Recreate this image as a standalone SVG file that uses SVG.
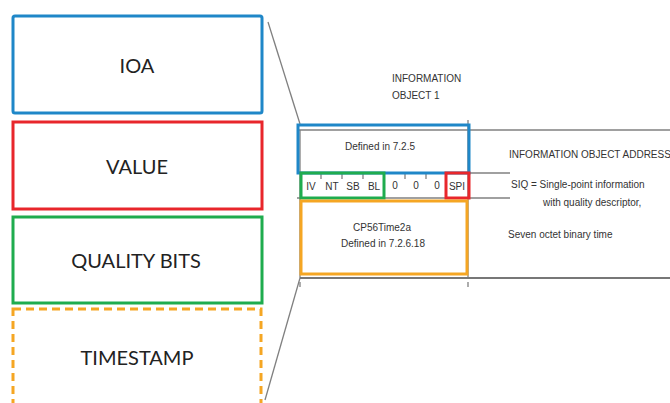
<svg xmlns="http://www.w3.org/2000/svg" width="670" height="403" viewBox="0 0 670 403">
<style>
.big{font-family:Lato,"Open Sans","Liberation Sans",sans-serif;font-size:20px;fill:#222;text-anchor:middle}
.sm{font-family:"Liberation Sans",Arial,sans-serif;font-size:10px;fill:#333}
.c{text-anchor:middle}
.g{stroke:#808080;stroke-width:1.3;fill:none}
.box{fill:none;stroke-width:3}
</style>
<rect width="670" height="403" fill="#fff"/>
<g id="connectors">
<line class="g" x1="268" y1="22" x2="300" y2="124"/>
<line class="g" x1="300" y1="278" x2="265" y2="400"/>
</g>
<g id="table">
<line class="g" x1="300" y1="130" x2="300" y2="278"/>
<line class="g" x1="468" y1="120" x2="468" y2="278"/>
<line class="g" x1="297" y1="130" x2="670" y2="130"/>
<line class="g" x1="297" y1="173" x2="510" y2="173"/>
<line class="g" x1="297" y1="198" x2="510" y2="198"/>
<line x1="300" y1="278" x2="670" y2="278" stroke="#777" stroke-width="2"/>
<line class="g" x1="300" y1="282" x2="300" y2="287" stroke-width="0.8"/>
<line class="g" x1="468" y1="282" x2="468" y2="287" stroke-width="0.8"/>
<g class="g" stroke-width="0.9">
<line x1="321" y1="173" x2="321" y2="179"/><line x1="342" y1="173" x2="342" y2="179"/>
<line x1="363" y1="173" x2="363" y2="179"/><line x1="405" y1="173" x2="405" y2="179"/>
<line x1="426" y1="173" x2="426" y2="179"/>
</g>
</g>
<g id="ioa">
<rect class="box" x="13" y="16" width="249" height="97" rx="2" stroke="#1f87c8"/>
<text class="big" x="137" y="73">IOA</text>
</g>
<g id="value">
<rect class="box" x="13" y="122" width="249" height="87" stroke="#e8262b"/>
<text class="big" x="137" y="174">VALUE</text>
</g>
<g id="quality">
<rect class="box" x="13" y="217" width="249" height="86" stroke="#1fac4e"/>
<text class="big" x="136" y="268">QUALITY BITS</text>
</g>
<g id="timestamp">
<rect class="box" x="13" y="309" width="248" height="100" stroke="#f5a623" stroke-dasharray="8,5"/>
<text class="big" x="137" y="365">TIMESTAMP</text>
</g>
<g id="info-object">
<text class="sm" x="392" y="82" font-size="11.5">INFORMATION</text>
<text class="sm" x="392" y="99" font-size="11.5">OBJECT 1</text>
</g>
<g id="address">
<rect class="box" x="298" y="125" width="171" height="48" stroke="#1f87c8"/>
<text class="sm c" x="380" y="150">Defined in 7.2.5</text>
</g>
<g id="bits">
<rect class="box" x="301" y="173" width="83" height="25" stroke="#1fac4e"/>
<text class="sm c" x="311" y="190">IV</text>
<text class="sm c" x="332" y="190">NT</text>
<text class="sm c" x="353" y="190">SB</text>
<text class="sm c" x="374" y="190">BL</text>
<text class="sm c" x="395" y="189">0</text>
<text class="sm c" x="416" y="189">0</text>
<text class="sm c" x="437" y="189">0</text>
</g>
<g id="spi">
<rect class="box" x="446" y="173" width="23" height="25" stroke="#e8262b"/>
<text class="sm c" x="457" y="190">SPI</text>
</g>
<g id="time">
<rect class="box" x="301" y="201" width="166" height="73" stroke="#f5a623"/>
<text class="sm c" x="382" y="231">CP56Time2a</text>
<text class="sm c" x="383" y="247">Defined in 7.2.6.18</text>
</g>
<g id="descriptions">
<text class="sm" x="509" y="158" font-size="9.6">INFORMATION OBJECT ADDRESS</text>
<text class="sm" x="511" y="188">SIQ = Single-point information</text>
<text class="sm" x="543" y="206">with quality descriptor,</text>
<text class="sm" x="508" y="238">Seven octet binary time</text>
</g>
</svg>
